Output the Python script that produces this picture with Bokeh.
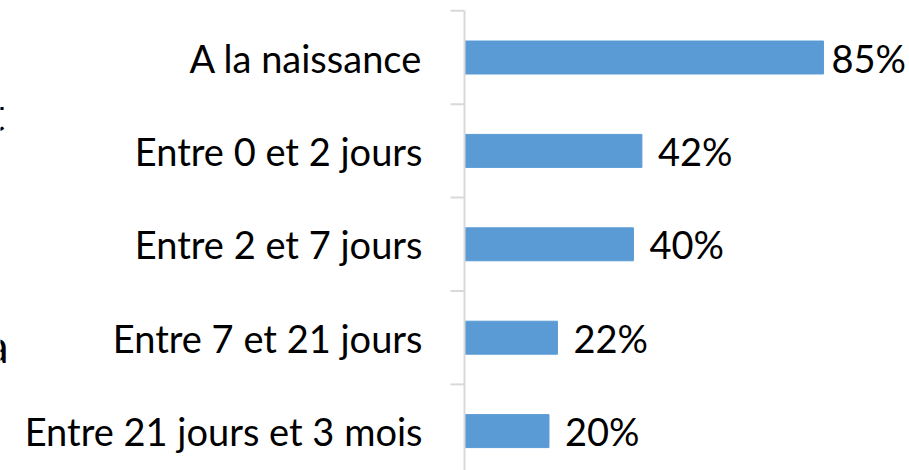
from bokeh.plotting import figure
from bokeh.models import Range1d, ColumnDataSource, Label
from bokeh.core.properties import value
from bokeh.embed import file_html
from bokeh.resources import INLINE

categories = ["A la naissance", "Entre 0 et 2 jours", "Entre 2 et 7 jours",
              "Entre 7 et 21 jours", "Entre 21 jours et 3 mois"]
values = [85, 42, 40, 22, 20]
value_labels = ["85%", "42%", "40%", "22%", "20%"]

FONT = "Lato"
FS = "38px"
BAR = "#5b9bd5"
AXIS = "#d9d9d9"

idx = list(range(len(categories)))
max_v = max(values)
offsets = [8 if v == max_v else 16 for v in values]

src = ColumnDataSource(dict(y=idx, v=values, cat=categories, lab=value_labels,
                            zero=[0] * len(idx), off=offsets))

p = figure(width=909, height=470, output_backend="svg", toolbar_location=None,
           x_range=Range1d(-109.85, 105.35), y_range=Range1d(4.4218, -0.6103),
           min_border=0)
p.axis.visible = False
p.grid.visible = False
p.outline_line_color = None

# bars
p.hbar(y="y", left=0, right="v", height=0.353, color=BAR, source=src)

# axis line and ticks between categories
bounds = [i - 0.5 for i in idx]
p.segment(x0=0, y0=-0.5, x1=0, y1=len(idx), line_color=AXIS, line_width=2)
p.ray(x=[0] * len(bounds), y=bounds, length=14, length_units="screen",
      angle=3.14159265, line_color=AXIS, line_width=2)

# category labels
p.text(x="zero", y="y", text="cat", source=src, x_offset=-42, y_offset=0,
       text_align="right", text_baseline="middle",
       text_font=value(FONT), text_font_size=FS, text_color="black")

# value labels
p.text(x="v", y="y", text="lab", source=src, x_offset="off", y_offset=0,
       text_align="left", text_baseline="middle",
       text_font=value(FONT), text_font_size=FS, text_color="black")

# clipped fragments of neighbouring text at the left edge
for t, xx, yy in [("t", 4, 357), ("a", 8, 125)]:
    p.add_layout(Label(x=xx, y=yy, x_units="screen", y_units="screen", text=t,
                       text_align="right", text_baseline="alphabetic",
                       text_font=FONT, text_font_size="46px", text_color="black"))

open("out.html", "w").write(file_html(p, INLINE))
